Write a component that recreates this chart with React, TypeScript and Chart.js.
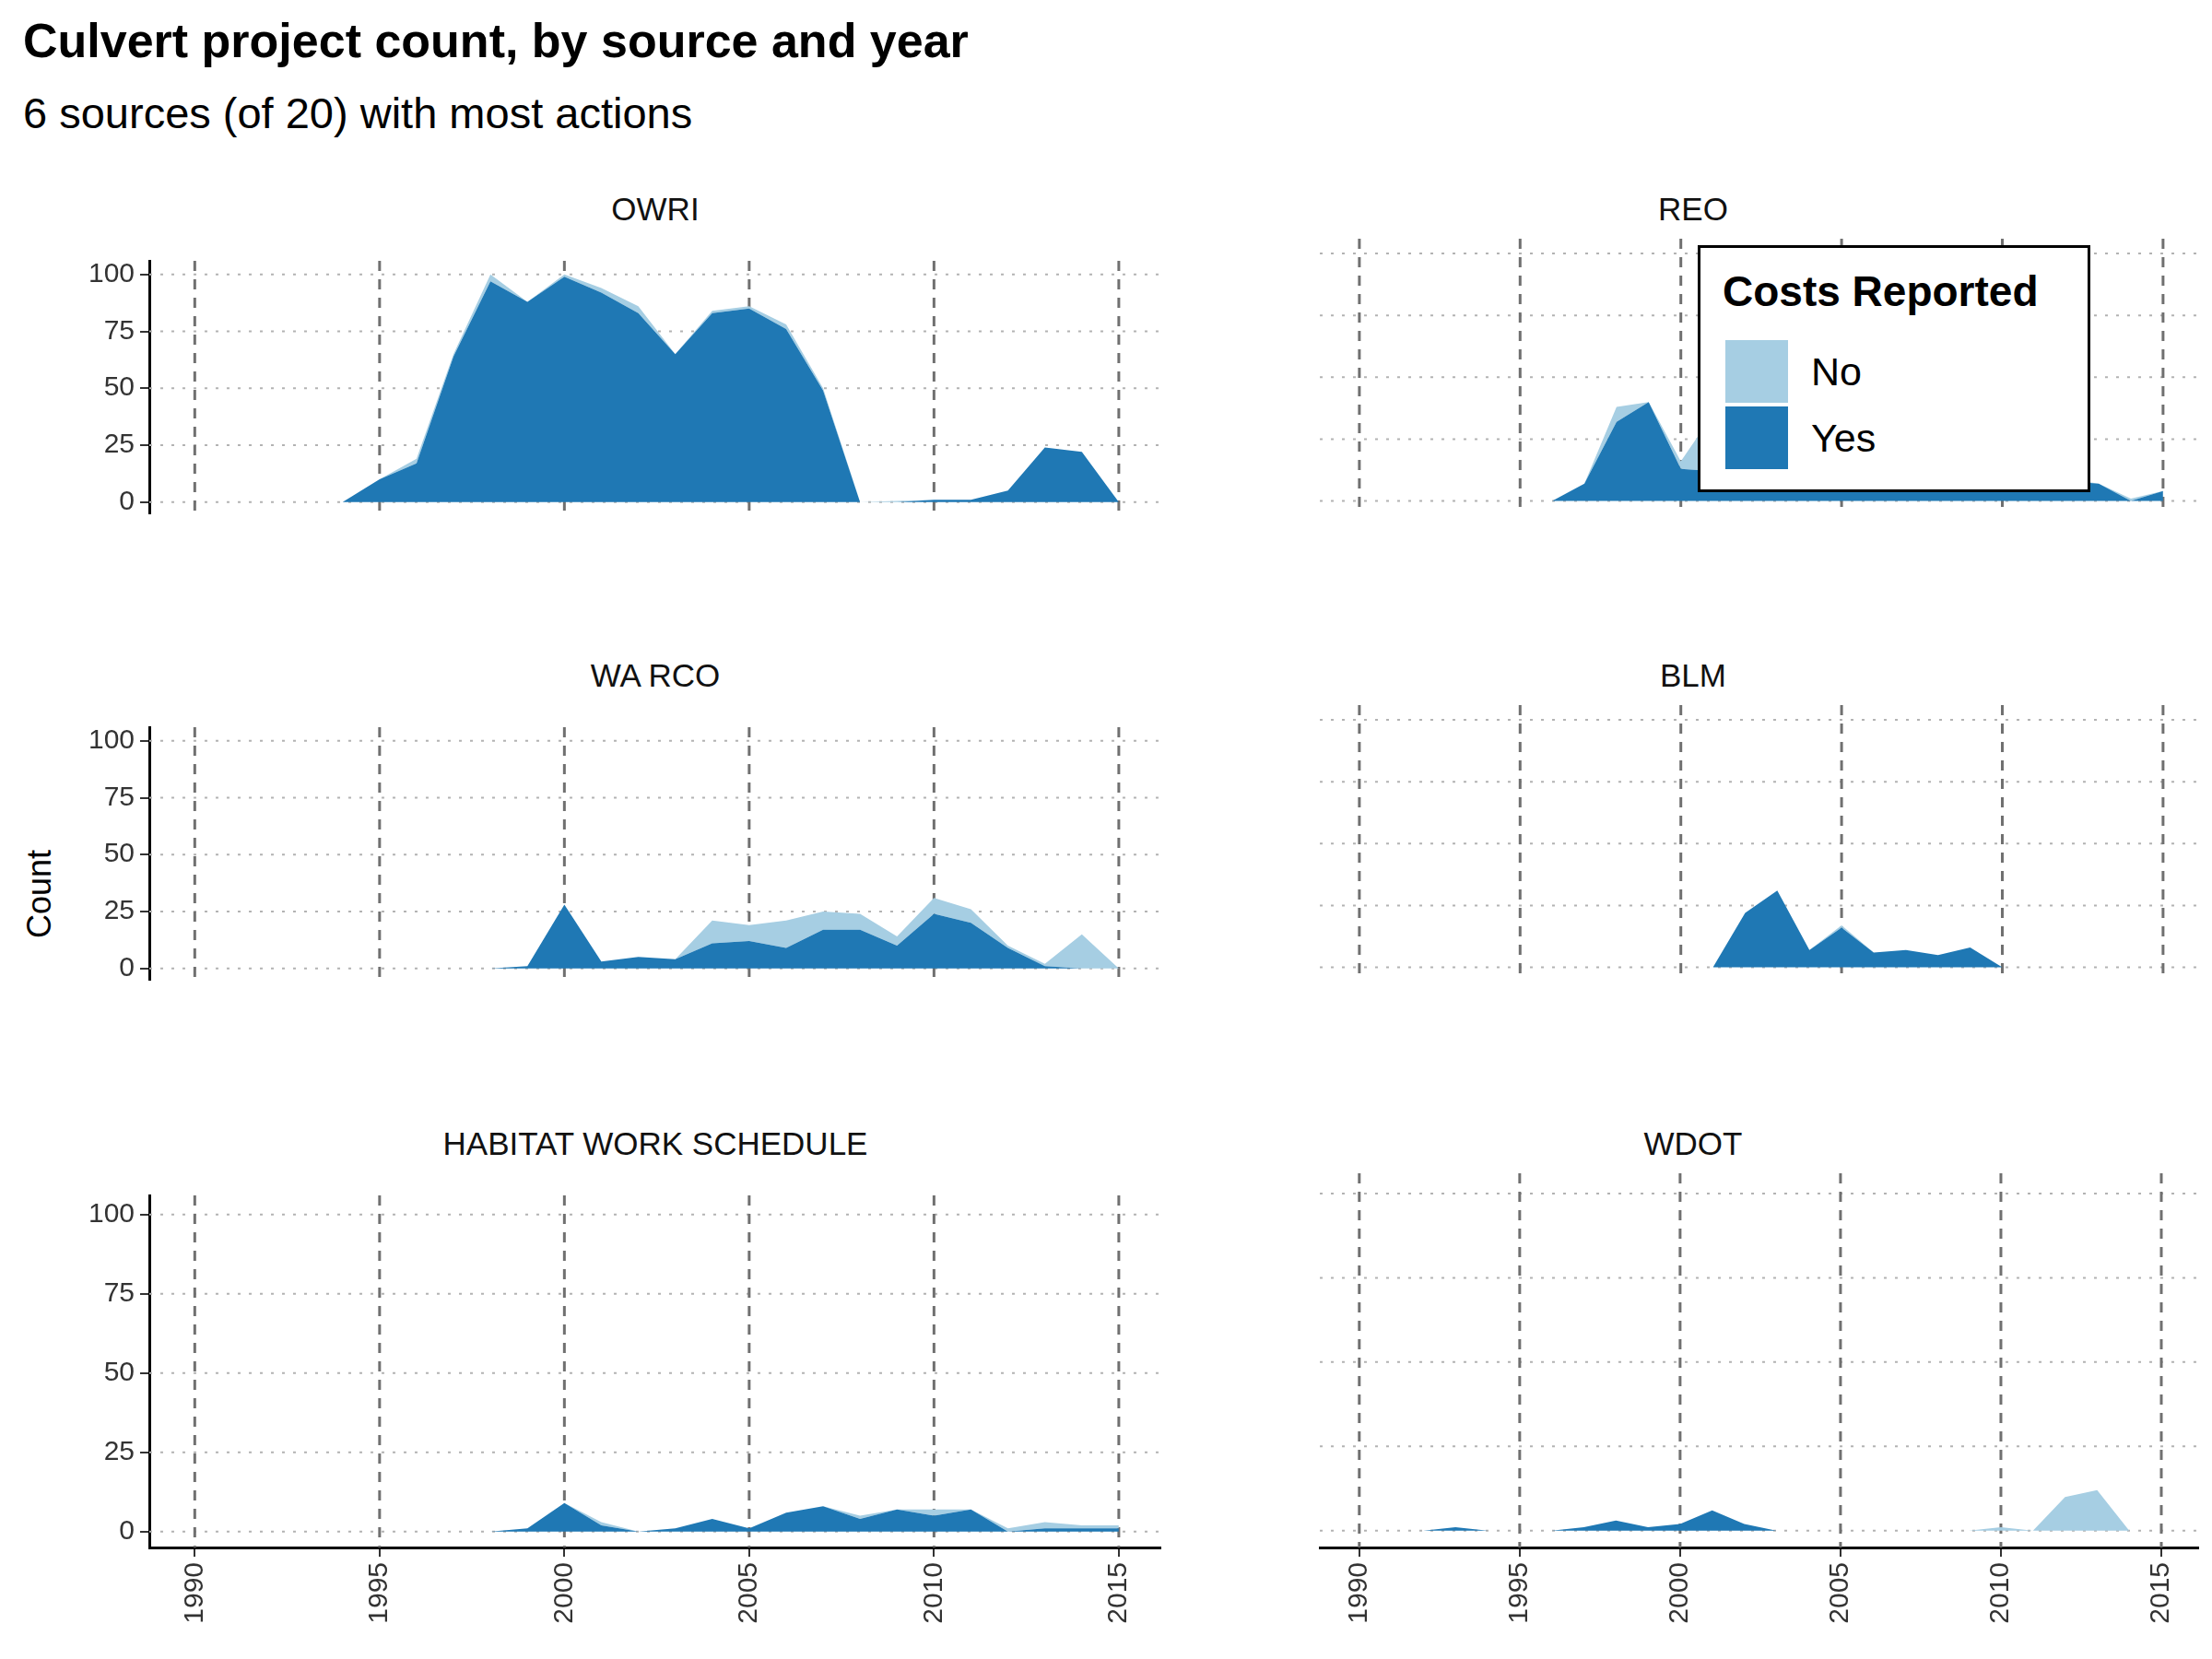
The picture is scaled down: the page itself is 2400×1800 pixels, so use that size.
import { useEffect, useRef } from "react";
import Chart from "chart.js/auto";

// each panel: first year, Yes counts, No counts (per year from first year)
const panelNames = ["OWRI", "REO", "WA RCO", "BLM", "HABITAT WORK SCHEDULE", "WDOT"];
const startYears = [1994, 1996, 1998, 2001, 1998, 1992];
const yesCounts = [
  [0, 10, 17, 64, 97, 88, 99, 92, 83, 65, 83, 85, 76, 49, 0, 0, 1, 1, 5, 24, 22, 0],
  [0, 7, 32, 40, 13, 12, 30, 50, 45, 21, 17, 6, 13, 15, 21, 11, 8, 7, 0, 4],
  [0, 1, 28, 3, 5, 4, 11, 12, 9, 17, 17, 10, 24, 20, 9, 1, 0, 0],
  [0, 22, 31, 7, 16, 6, 7, 5, 8, 0],
  [0, 1, 9, 2, 0, 1, 4, 1, 6, 8, 4, 7, 5, 7, 0, 1, 1, 1],
  [0, 1, 0, 0, 0, 1, 3, 1, 2, 6, 2, 0, 0, 0, 0, 0, 0, 0, 0, 0, 0, 0, 0],
];
const noCounts = [
  [0, 0, 2, 1, 3, 0, 1, 2, 3, 0, 1, 1, 2, 1, 0, 0.5, 0, 0, 0, 0, 0, 0],
  [0, 0, 6, 0, 3, 23, 4, 5, 3, 2, 1, 3, 2, 6, 5, 3, 1, 0, 1, 0],
  [0, 0, 0, 0, 0, 0, 10, 7, 12, 8, 7, 4, 7, 6, 1, 1, 15, 0],
  [0, 0, 0, 0, 1, 0, 0, 0, 0, 0],
  [0, 0, 0, 1, 0, 0, 0, 0, 0, 0, 1, 0, 2, 0, 1, 2, 1, 1],
  [0, 0, 0, 0, 0, 0, 0, 0, 0, 0, 0, 0, 0, 0, 0, 0, 0, 0, 1, 0, 10, 12, 0],
];
const xTicks = [1990, 1995, 2000, 2005, 2010, 2015];
const yTicks = [0, 25, 50, 75, 100];

const FONT = "Arial, 'Liberation Sans', sans-serif";
const YES = "#1f78b4";
const NO = "#a6cee3";

const gridPlugin = {
  id: "facetGrid",
  beforeDatasetsDraw(chart: any) {
    const { ctx, chartArea: a, scales } = chart;
    ctx.save();
    ctx.lineWidth = 2;
    ctx.strokeStyle = "#b3b3b3";
    ctx.setLineDash([3, 9]);
    yTicks.forEach((v) => {
      const y = scales.y.getPixelForValue(v);
      ctx.beginPath();
      ctx.moveTo(a.left, y);
      ctx.lineTo(a.right, y);
      ctx.stroke();
    });
    ctx.strokeStyle = "#707070";
    ctx.lineWidth = 3;
    ctx.setLineDash([11, 9]);
    xTicks.forEach((v) => {
      const x = scales.x.getPixelForValue(v);
      ctx.beginPath();
      ctx.moveTo(x, a.top);
      ctx.lineTo(x, a.bottom);
      ctx.stroke();
    });
    ctx.restore();
  },
};

const Panel = ({ idx, left, top, width, height, showY, showX }: any) => {
  const ref = useRef<HTMLCanvasElement>(null);
  useEffect(() => {
    if (!ref.current) return;
    const s = startYears[idx];
    const yes = yesCounts[idx].map((v, i) => ({ x: s + i, y: v }));
    const no = noCounts[idx].map((v, i) => ({ x: s + i, y: v }));
    const chart = new Chart(ref.current, {
      type: "line",
      data: {
        datasets: [
          { label: "Yes", data: yes, fill: "origin", backgroundColor: YES, borderWidth: 0, pointRadius: 0, tension: 0 },
          { label: "No", data: no, fill: "-1", backgroundColor: NO, borderWidth: 0, pointRadius: 0, tension: 0 },
        ],
      },
      plugins: [gridPlugin],
      options: {
        animation: false,
        responsive: true,
        maintainAspectRatio: false,
        layout: { padding: 0 },
        plugins: { legend: { display: false }, tooltip: { enabled: false } },
        scales: {
          x: {
            type: "linear",
            min: 1988.77,
            max: 2016.15,
            display: showX,
            afterBuildTicks: (sc: any) => { sc.ticks = xTicks.map((v) => ({ value: v })); },
            afterFit: (sc: any) => { sc.height = 108; },
            grid: { drawOnChartArea: false, drawTicks: true, tickLength: 10, color: "#333", lineWidth: 2 },
            border: { display: true, color: "#000", width: 3 },
            ticks: { minRotation: 90, maxRotation: 90, padding: 6, color: "#333", font: { family: FONT, size: 30 }, callback: (v: any) => String(v) },
          },
          y: {
            stacked: true,
            min: -5,
            max: 106,
            display: showY,
            afterBuildTicks: (sc: any) => { sc.ticks = yTicks.map((v) => ({ value: v })); },
            afterFit: (sc: any) => { sc.width = 145; },
            grid: { drawOnChartArea: false, drawTicks: true, tickLength: 10, color: "#333", lineWidth: 2 },
            border: { display: true, color: "#000", width: 3 },
            ticks: { padding: 6, color: "#333", font: { family: FONT, size: 30 }, callback: (v: any) => String(v) },
          },
        },
      },
    });
    return () => chart.destroy();
  }, [idx, showX, showY]);
  return (
    <div style={{ position: "absolute", left, top, width, height }}>
      <canvas ref={ref} />
    </div>
  );
};

export default function App() {
  const rowTops = [259, 765, 1273];
  const areaH = 406;
  const panels: any[] = [];
  panelNames.forEach((name, i) => {
    const row = Math.floor(i / 2);
    const col = i % 2;
    const showX = row === 2;
    const left = col === 0 ? 17 : 1287;
    const width = col === 0 ? 1243 : 1100;
    const areaLeft = col === 0 ? 162 : 1287;
    const areaW = col === 0 ? 1098 : 1100;
    panels.push(
      <div key={"l" + i} style={{ position: "absolute", left: areaLeft, width: areaW, top: rowTops[row] - 52, textAlign: "center", fontFamily: FONT, fontSize: 35, color: "#111" }}>{name}</div>
    );
    panels.push(
      <Panel key={"p" + i} idx={i} left={left} top={rowTops[row]} width={width}
        height={areaH + (showX ? 108 : 0)} showY={col === 0} showX={showX} />
    );
  });
  return (
    <div style={{ position: "relative", width: 2400, height: 1800, background: "#fff", margin: -8, fontFamily: FONT }}>
      <div style={{ position: "absolute", left: 25, top: 14, fontSize: 52, fontWeight: "bold", color: "#000" }}>Culvert project count, by source and year</div>
      <div style={{ position: "absolute", left: 25, top: 95, fontSize: 47, color: "#000" }}>6 sources (of 20) with most actions</div>
      <div style={{ position: "absolute", left: 43, top: 970, transform: "translate(-50%,-50%) rotate(-90deg)", fontSize: 36, color: "#000" }}>Count</div>
      {panels}
      <div style={{ position: "absolute", left: 1842, top: 266, width: 420, height: 262, border: "3px solid #000", background: "#fff", zIndex: 5 }}>
        <div style={{ position: "absolute", left: 24, top: 20, fontSize: 46, fontWeight: "bold" }}>Costs Reported</div>
        <div style={{ position: "absolute", left: 27, top: 100, width: 68, height: 68, background: NO }} />
        <div style={{ position: "absolute", left: 27, top: 172, width: 68, height: 68, background: YES }} />
        <div style={{ position: "absolute", left: 120, top: 110, fontSize: 43 }}>No</div>
        <div style={{ position: "absolute", left: 120, top: 182, fontSize: 43 }}>Yes</div>
      </div>
    </div>
  );
}
